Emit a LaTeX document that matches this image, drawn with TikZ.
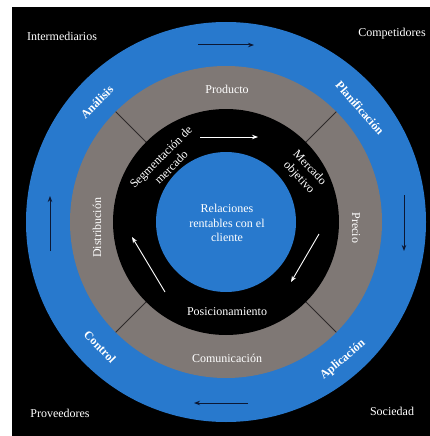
\documentclass[tikz,border=0pt]{standalone}
\usepackage{fontspec}
\setmainfont{Liberation Serif}
\usetikzlibrary{arrows.meta,calc}
\definecolor{ringblue}{RGB}{40,121,205}
\definecolor{ringgray}{RGB}{127,120,117}
\definecolor{navy}{RGB}{12,24,52}
\definecolor{divider}{RGB}{45,42,42}
\begin{document}
\begin{tikzpicture}[x=1pt,y=-1pt,
  lab/.style={text=white,font=\fontsize{12}{14.5}\selectfont,align=center,inner sep=0pt},
  boldlab/.style={lab,font=\fontsize{12}{14.5}\selectfont\bfseries},
  navyarrow/.style={draw=navy,line width=1pt,-{Stealth[length=6pt,width=4.5pt]}},
  whitearrow/.style={draw=white,line width=0.9pt,-{Stealth[length=6pt,width=4.5pt]}},
  divline/.style={draw=divider,line width=0.8pt}]
\useasboundingbox (0,0) rectangle (430,436);
\fill[white] (0,0) rectangle (430,436);
\fill[black] (12,7) rectangle (430,436);
\coordinate (c) at (226,222);
\fill[ringblue] (c) circle[radius=200pt];
\fill[ringgray] (c) circle[radius=156pt];
\fill[black] (c) circle[radius=113pt];
\fill[ringblue] (c) circle[radius=70pt];
% dividers in gray ring
\foreach \a/\n in {45/ne,135/nw,225/sw,315/se}{
  \coordinate (d\n i) at ($(c)+(\a:113pt)$);
  \coordinate (d\n o) at ($(c)+(\a:156pt)$);
  \draw[divline] (d\n i) -- (d\n o);
}
% corner labels
\node[lab] (interm) at (62,36) {Intermediarios};
\node[lab] (compet) at (392,34) {Competidores};
\node[lab] (prove) at (60,413) {Proveedores};
\node[lab] (socied) at (392,411) {Sociedad};
% blue ring labels
\node[boldlab,rotate=45] (analisis) at (97,102) {Análisis};
\node[boldlab,rotate=-49] (planif) at (360,108) {Planificación};
\node[boldlab,rotate=-46] (control) at (100,347) {Control};
\node[boldlab,rotate=40] (aplic) at (343,360) {Aplicación};
% gray ring labels
\node[lab] (producto) at (227,89) {Producto};
\node[lab,rotate=-90] (precio) at (356,228) {Precio};
\node[lab] (comunic) at (227,358) {Comunicación};
\node[lab,rotate=90] (distrib) at (97,228) {Distribución};
% black ring labels
\node[lab,rotate=45] (segm) at (166,162) {Segmentación de\\mercado};
\node[lab,rotate=-47] (mercobj) at (304,173) {Mercado\\objetivo};
\node[lab] (posic) at (227,312) {Posicionamiento};
% center
\node[lab] (rel) at (227,223) {Relaciones\\rentables con el\\cliente};
% blue ring arrows
\coordinate (ta1) at (198,45);  \coordinate (ta2) at (254,45);
\coordinate (ra1) at (404,195); \coordinate (ra2) at (404,251);
\coordinate (ba1) at (248,403); \coordinate (ba2) at (194,403);
\coordinate (la1) at (50,251);  \coordinate (la2) at (50,196);
\draw[navyarrow] (ta1) -- (ta2);
\draw[navyarrow] (ra1) -- (ra2);
\draw[navyarrow] (ba1) -- (ba2);
\draw[navyarrow] (la1) -- (la2);
% black ring arrows
\coordinate (wt1) at (200,137); \coordinate (wt2) at (258,137);
\coordinate (wr1) at (319,234); \coordinate (wr2) at (291,282);
\coordinate (wl1) at (165,292); \coordinate (wl2) at (132,237);
\draw[whitearrow] (wt1) -- (wt2);
\draw[whitearrow] (wr1) -- (wr2);
\draw[whitearrow] (wl1) -- (wl2);
\end{tikzpicture}
\end{document}
